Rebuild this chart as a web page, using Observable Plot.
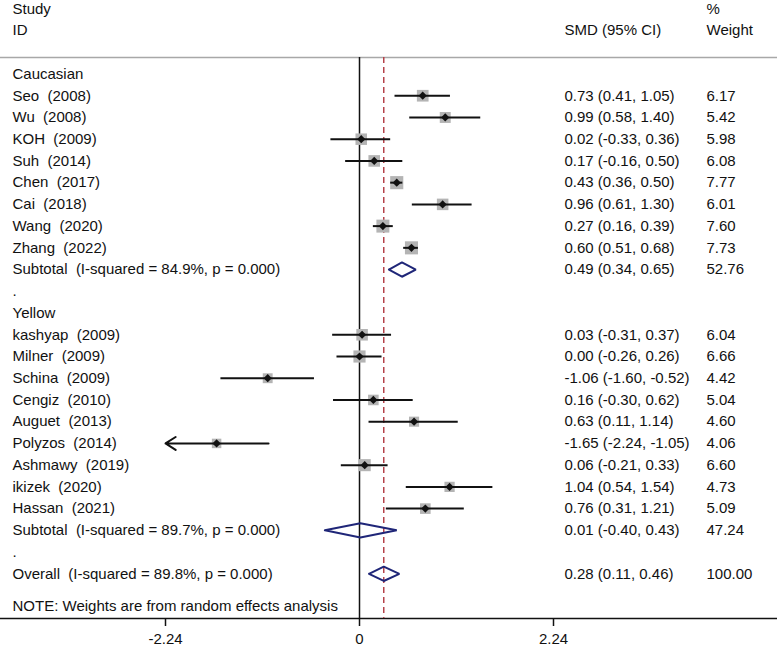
<!DOCTYPE html>
<html>
<head>
<meta charset="utf-8">
<script src="https://cdn.jsdelivr.net/npm/d3@7"></script>
<script src="https://cdn.jsdelivr.net/npm/@observablehq/plot@0.6"></script>
<style>
  html, body { margin: 0; padding: 0; background: #fff; }
  #chart svg { display: block; }
</style>
</head>
<body>
<div id="chart"></div>
<script>
// ---- Data ----
const groupNames = ["Caucasian", "Yellow"];

const cauStudies = ["Seo  (2008)", "Wu  (2008)", "KOH  (2009)", "Suh  (2014)", "Chen  (2017)", "Cai  (2018)", "Wang  (2020)", "Zhang  (2022)"];
const cauEst = [0.73, 0.99, 0.02, 0.17, 0.43, 0.96, 0.27, 0.60];
const cauLo  = [0.41, 0.58, -0.33, -0.16, 0.36, 0.61, 0.16, 0.51];
const cauHi  = [1.05, 1.40, 0.36, 0.50, 0.50, 1.30, 0.39, 0.68];
const cauW   = [6.17, 5.42, 5.98, 6.08, 7.77, 6.01, 7.60, 7.73];

const yelStudies = ["kashyap  (2009)", "Milner  (2009)", "Schina  (2009)", "Cengiz  (2010)", "Auguet  (2013)", "Polyzos  (2014)", "Ashmawy  (2019)", "ikizek  (2020)", "Hassan  (2021)"];
const yelEst = [0.03, 0.00, -1.06, 0.16, 0.63, -1.65, 0.06, 1.04, 0.76];
const yelLo  = [-0.31, -0.26, -1.60, -0.30, 0.11, -2.24, -0.21, 0.54, 0.31];
const yelHi  = [0.37, 0.26, -0.52, 0.62, 1.14, -1.05, 0.33, 1.54, 1.21];
const yelW   = [6.04, 6.66, 4.42, 5.04, 4.60, 4.06, 6.60, 4.73, 5.09];

const subLabels = ["Subtotal  (I-squared = 84.9%, p = 0.000)", "Subtotal  (I-squared = 89.7%, p = 0.000)"];
const subEst = [0.49, 0.01];
const subLo  = [0.34, -0.40];
const subHi  = [0.65, 0.43];
const subW   = [52.76, 47.24];

const overallLabel = "Overall  (I-squared = 89.8%, p = 0.000)";
const overallEst = 0.28, overallLo = 0.11, overallHi = 0.46, overallW = 100.00;

const xTicks = [-2.24, 0, 2.24];
const headerLabels = ["Study", "ID"];
const headerSmd = ["SMD (95% CI)"];
const headerWeight = ["%", "Weight"];
const noteText = "NOTE: Weights are from random effects analysis";

// ---- Build rows ----
const groupData = [
  {name: groupNames[0], studies: cauStudies, est: cauEst, lo: cauLo, hi: cauHi, w: cauW},
  {name: groupNames[1], studies: yelStudies, est: yelEst, lo: yelLo, hi: yelHi, w: yelW}
];
const rows = [];
let r = 0;
groupData.forEach((g, gi) => {
  rows.push({row: r++, label: g.name, kind: "group"});
  g.studies.forEach((s, i) => rows.push({row: r++, label: s, kind: "study", est: g.est[i], lo: g.lo[i], hi: g.hi[i], w: g.w[i]}));
  rows.push({row: r++, label: subLabels[gi], kind: "pooled", est: subEst[gi], lo: subLo[gi], hi: subHi[gi], w: subW[gi]});
  rows.push({row: r++, label: ".", kind: "spacer"});
});
rows.push({row: r++, label: overallLabel, kind: "pooled", est: overallEst, lo: overallLo, hi: overallHi, w: overallW});

const xMin = xTicks[0];
const studies = rows.filter(d => d.kind === "study");
const ciLines = studies.filter(d => d.lo > xMin);
const ciArrows = studies.filter(d => d.lo <= xMin);
const pooled = rows.filter(d => d.kind === "pooled");
const numeric = rows.filter(d => d.est !== undefined);

const dh = 0.33; // diamond half-height in rows
const diamondPts = pooled.flatMap((d, i) => [
  {id: i, x: d.lo, y: d.row},
  {id: i, x: d.est, y: d.row - dh},
  {id: i, x: d.hi, y: d.row},
  {id: i, x: d.est, y: d.row + dh},
  {id: i, x: d.lo, y: d.row}
]);

const headerRows = [-3, -2];
const hdrLabel = headerLabels.map((t, i) => ({row: headerRows[i], text: t}));
const hdrSmd = headerSmd.map(t => ({row: -2, text: t}));
const hdrWeight = headerWeight.map((t, i) => ({row: headerRows[i], text: t}));

const font = "'Liberation Sans', Arial, Helvetica, sans-serif";
const fs = 15;
const colX = {label: 12, smd: 564, weight: 706};
const ink = "#111";

const textAt = (data, dx, text) => Plot.text(data, {y: "row", text, frameAnchor: "left", dx, textAnchor: "start", fill: ink});

const chart = Plot.plot({
  width: 777,
  height: 648,
  marginTop: 57,
  marginBottom: 30,
  marginLeft: 0,
  marginRight: 0,
  style: {fontFamily: font, fontSize: fs + "px", whiteSpace: "pre", color: ink, background: "#fff"},
  x: {domain: [-2.24, 2.24], range: [165, 553]},
  y: {domain: [0, 23], range: [73.5, 573.3], axis: null},
  r: {type: "sqrt", domain: [0, 7.77], range: [0, 7.4]},
  marks: [
    Plot.frame({anchor: "top", stroke: "#a8a8a8", strokeWidth: 1.5}),
    Plot.frame({anchor: "bottom", stroke: ink, strokeWidth: 1.5}),
    Plot.axisX(xTicks, {tickSize: 8, tickPadding: 7, tickFormat: d => d === 0 ? "0" : d.toFixed(2), fontSize: fs, stroke: ink, strokeWidth: 1.5}),
    Plot.ruleX([0], {stroke: ink, strokeWidth: 1.5}),
    Plot.ruleX([overallEst], {stroke: "#b5424a", strokeWidth: 1.5, strokeDasharray: "6,4"}),
    Plot.dot(studies, {x: "est", y: "row", r: "w", symbol: "square", fill: "#b4b4b4", stroke: null}),
    Plot.ruleY(ciLines, {x1: "lo", x2: "hi", y: "row", stroke: ink, strokeWidth: 2}),
    Plot.arrow(ciArrows, {x1: "hi", x2: "lo", y1: "row", y2: "row", stroke: ink, strokeWidth: 2, headLength: 9, headAngle: 65}),
    Plot.dot(studies, {x: "est", y: "row", r: 3.7, symbol: "diamond2", fill: ink, stroke: null}),
    Plot.line(diamondPts, {x: "x", y: "y", z: "id", stroke: "#1f2678", strokeWidth: 2, strokeLinejoin: "miter", curve: "linear"}),
    textAt(rows, colX.label, "label"),
    textAt(numeric, colX.smd, d => `${d.est.toFixed(2)} (${d.lo.toFixed(2)}, ${d.hi.toFixed(2)})`),
    textAt(numeric, colX.weight, d => d.w.toFixed(2)),
    textAt(hdrLabel, colX.label, "text"),
    textAt(hdrSmd, colX.smd, "text"),
    textAt(hdrWeight, colX.weight, "text"),
    textAt([{row: 24.5, text: noteText}], colX.label, "text")
  ]
});
document.getElementById("chart").appendChild(chart);
</script>
</body>
</html>
